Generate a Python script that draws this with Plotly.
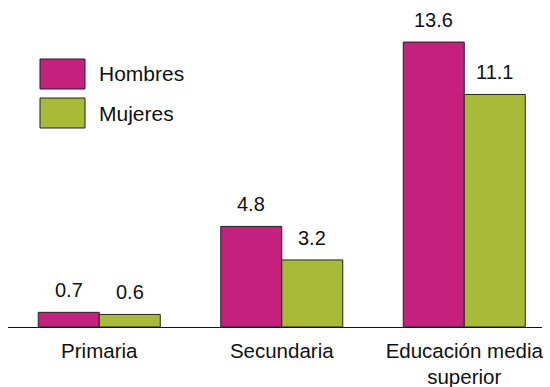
import plotly.graph_objects as go

categorias = ["Primaria", "Secundaria", "Educación media<br>superior"]
hombres = [0.7, 4.8, 13.6]
mujeres = [0.6, 3.2, 11.1]
series = ["Hombres", "Mujeres"]
colores = ["#C4217F", "#A9BA38"]

fig = go.Figure()
for nombre, valores, color in zip(series, [hombres, mujeres], colores):
    fig.add_trace(go.Bar(
        x=categorias, y=valores, name=nombre,
        marker=dict(color=color, line=dict(color="#222222", width=1)),
        showlegend=False, hoverinfo="skip",
    ))

# value labels above each bar (shifted to the bar of the group)
for valores, shift in [(hombres, -30.5), (mujeres, 30.5)]:
    for cat, v in zip(categorias, valores):
        fig.add_annotation(x=cat, y=v, text=f"{v:.1f}", showarrow=False,
                           xshift=shift, yshift=9, yanchor="bottom",
                           font=dict(size=20, color="#111111"))

# legend drawn as big boxes like the original
for i, (nombre, color) in enumerate(zip(series, colores)):
    top = 59 + i * 39
    fig.add_shape(type="rect", xref="paper", yref="paper",
                  x0=(40 - 8) / 534, x1=(85 - 8) / 534,
                  y0=(327 - top - 30) / 317, y1=(327 - top) / 317,
                  fillcolor=color, line=dict(color="#222222", width=1))
    fig.add_annotation(xref="paper", yref="paper", x=(97 - 8) / 534,
                       y=(327 - top - 15) / 317, text=nombre, showarrow=False,
                       xanchor="left", yanchor="middle",
                       font=dict(size=21, color="#111111"))

fig.update_layout(
    width=550, height=387,
    margin=dict(l=8, r=8, t=10, b=60),
    barmode="group", bargap=0.3315, bargroupgap=0,
    plot_bgcolor="white", paper_bgcolor="white",
    font=dict(family="Liberation Sans, Arial", size=21, color="#111111"),
)
fig.update_xaxes(range=[-0.5, 2.426], showline=True, linecolor="#111111",
                 linewidth=1, ticks="", showgrid=False, automargin=False,
                 tickfont=dict(size=20.5), ticklabelstandoff=5)
fig.update_yaxes(range=[0, 15.13], visible=False, automargin=False)

# page body margin off so the figure fills the window exactly
fig.write_html("out.html", config={"displayModeBar": False},
               post_script="document.body.style.margin='0';")
